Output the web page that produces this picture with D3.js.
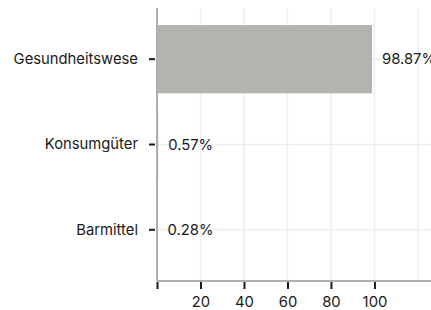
<!DOCTYPE html>
<head>
    <meta charset="utf-8">
    <script src="https://d3js.org/d3.v7.min.js"></script>
</head>
<style>
    body { margin: 0; background: #fff; }
    text { font-family: Inter, "Noto Sans", sans-serif; }
    .yaxis path, .xaxis path { stroke: none; }
</style>
<body>
    <div id="chart"></div>
</body>

<script>
    // data
    const categories = ["Gesundheitswese", "Konsumgüter", "Barmittel"];
    const values = [98.87, 0.57, 0.28];
    const xTicks = [0, 20, 40, 60, 80, 100];
    const gridTicks = [20, 40, 60, 80, 100, 120];

    const width = 431, height = 310;
    const plotLeft = 157, plotTop = 8, plotBottom = 281;
    const fontSize = 14.8;

    const svg = d3.select("#chart")
        .append("svg")
        .attr("width", width)
        .attr("height", height);

    const x = d3.scaleLinear()
        .domain([0, 126])
        .range([plotLeft, width]);

    const y = d3.scaleBand()
        .domain(categories)
        .range([plotTop, plotBottom])
        .paddingInner(0.2)
        .paddingOuter(0.2);

    // grid
    svg.append("g")
        .selectAll("line")
        .data(gridTicks)
        .join("line")
        .attr("x1", d => x(d)).attr("x2", d => x(d))
        .attr("y1", plotTop).attr("y2", plotBottom)
        .attr("stroke", "#eeeeee")
        .attr("stroke-width", 1.5);

    svg.append("g")
        .selectAll("line")
        .data(categories)
        .join("line")
        .attr("x1", plotLeft).attr("x2", width)
        .attr("y1", d => y(d) + y.bandwidth() / 2)
        .attr("y2", d => y(d) + y.bandwidth() / 2)
        .attr("stroke", "#eeeeee")
        .attr("stroke-width", 1.5);

    // bars
    svg.append("g")
        .selectAll("rect")
        .data(values)
        .join("rect")
        .attr("x", x(0))
        .attr("y", (d, i) => y(categories[i]))
        .attr("width", d => x(d) - x(0))
        .attr("height", y.bandwidth())
        .attr("fill", "#b4b3af");

    // value labels
    svg.append("g")
        .selectAll("text")
        .data(values)
        .join("text")
        .attr("x", d => x(d) + 10)
        .attr("y", (d, i) => y(categories[i]) + y.bandwidth() / 2)
        .attr("dy", "0.35em")
        .attr("font-size", fontSize)
        .attr("fill", "#1a1a1a")
        .text(d => d.toFixed(2) + "%");

    // axis lines
    svg.append("line")
        .attr("x1", plotLeft).attr("x2", plotLeft)
        .attr("y1", plotTop).attr("y2", plotBottom)
        .attr("stroke", "#b0afab").attr("stroke-width", 2);
    svg.append("line")
        .attr("x1", plotLeft).attr("x2", width)
        .attr("y1", plotBottom).attr("y2", plotBottom)
        .attr("stroke", "#b0afab").attr("stroke-width", 2);

    // y axis
    const yAxis = svg.append("g")
        .attr("class", "yaxis")
        .attr("transform", `translate(${plotLeft - 2},0)`)
        .call(d3.axisLeft(y).tickSize(6).tickPadding(11));
    yAxis.selectAll("line").attr("stroke", "#1a1a1a").attr("stroke-width", 2);
    yAxis.selectAll("text").attr("font-size", fontSize).attr("fill", "#1a1a1a")
        .style("font-family", "Inter, sans-serif");

    // x axis
    const xAxis = svg.append("g")
        .attr("class", "xaxis")
        .attr("transform", `translate(0,${plotBottom + 1})`)
        .call(d3.axisBottom(x).tickValues(xTicks).tickSize(7).tickPadding(7)
            .tickFormat(d => d === 0 ? "" : d));
    xAxis.selectAll("line").attr("stroke", "#1a1a1a").attr("stroke-width", 2);
    xAxis.selectAll("text").attr("font-size", fontSize).attr("fill", "#1a1a1a")
        .style("font-family", "Inter, sans-serif");
</script>
